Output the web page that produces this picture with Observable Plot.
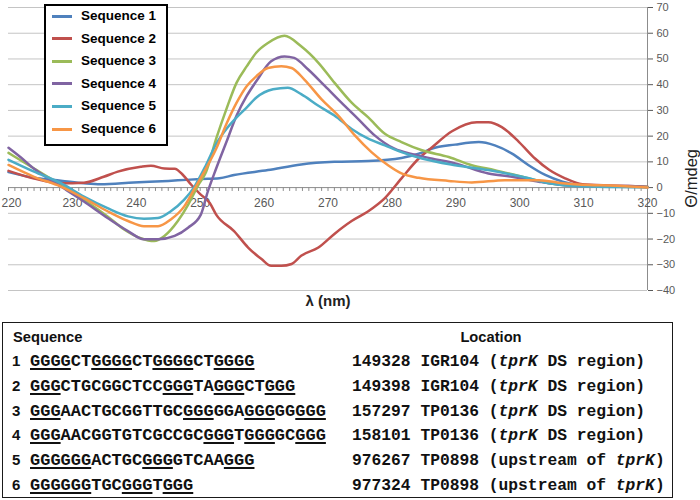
<!DOCTYPE html>
<html><head><meta charset="utf-8">
<script src="https://cdn.jsdelivr.net/npm/d3@7"></script>
<script src="https://cdn.jsdelivr.net/npm/@observablehq/plot@0.6"></script>
<style>
body{margin:0;background:#fff;}
#wrap{position:relative;width:700px;height:500px;overflow:hidden;font-family:"Liberation Sans",Arial,sans-serif;}
#chart{position:absolute;left:0;top:0;}
.legend{position:absolute;left:44px;top:4px;width:124px;height:142px;border:2px solid #000;box-sizing:border-box;background:#fff;}
.lrow{position:absolute;left:0;height:20px;line-height:20px;font-weight:bold;font-size:13.5px;color:#000;white-space:nowrap}
.sw{position:absolute;left:6px;top:8.5px;width:20px;height:3px}
.ltxt{position:absolute;left:35px;top:0}
.tbox{position:absolute;left:2px;top:322px;width:671px;height:176px;border:1.5px solid #1a1a1a;box-sizing:border-box}
.hdr{position:absolute;font-weight:bold;font-size:14.7px;line-height:20px;color:#111;white-space:nowrap}
.num{position:absolute;left:12px;font-weight:bold;font-size:15px;line-height:20px;color:#111}
.seq{position:absolute;left:30px;font-family:"Liberation Mono","Courier New",monospace;font-weight:bold;font-size:17px;line-height:20px;color:#111;white-space:pre}
.seq u{text-decoration:underline;text-decoration-thickness:2px;text-underline-offset:2px}
.loc{position:absolute;left:352px;font-family:"Liberation Mono","Courier New",monospace;font-weight:bold;font-size:16.3px;line-height:20px;color:#111;white-space:pre}
</style></head>
<body>
<div id="wrap">
  <div id="chart"></div>
  <div class="legend" id="legend"></div>
  <div class="tbox"></div>
  <div id="table"></div>
</div>
<script>
// ---- Chart data ----
const seriesNames = ["Sequence 1","Sequence 2","Sequence 3","Sequence 4","Sequence 5","Sequence 6"];
const seriesColors = ["#4F81BD","#C0504D","#9BBB59","#8064A2","#4BACC6","#F79646"];

const wl1 = [220,224.5,228.2,231.8,234.4,239.6,245,247.8,250.1,253,255.3,260.6,265.8,271,276.3,281.5,284.7,286.2,289.9,293.6,296.1,298.8,301.4,304,306.7,309.3,314,320];
const th1 = [6,3.6,2.7,1.7,1.3,2,2.6,3.0,3.3,3.6,4.9,6.8,9,10,10.3,11.5,13.6,15.1,16.7,17.7,16.4,13.2,8.7,4.9,2.3,1,0.5,0.2];

const wl2 = [220,224,228.2,231.8,234.9,237.1,240.7,242.3,244.4,246,247.3,248.6,250,251.5,252.5,255.3,257.5,259.6,261.1,262.7,264.3,265.8,268.5,271,273.7,276.3,278.9,281.5,284.2,286.2,289.4,293.3,295.1,297.2,299.9,302.4,304.6,307.1,309.8,314,317,320];
const th2 = [6.5,3.5,1.7,1.9,4.2,6.2,8.1,8.5,7.4,7.3,4.9,1.1,-2.5,-6,-10.5,-16.9,-23.3,-27.8,-30.4,-30.4,-29.7,-26.5,-23.3,-18,-13,-9.2,-4.1,3.6,11.3,15.5,21.9,25.4,25.4,23.5,17.7,11.3,6.9,3.6,1.3,0.8,0.6,0.3];

const wl3 = [220,224,228.2,231.8,235.5,238.1,240.7,242.8,244.4,246.5,248.1,249.7,250.9,252.5,254.1,255.7,257.3,258.8,260.6,263.2,265.8,268.5,271,273.7,276.3,278.9,281.5,284.7,288.9,292.5,296.1,300.4,304.6,308.2,314,320];
const th3 = [13.5,7.4,1,-4.7,-11.2,-16.3,-19.7,-20.8,-18.8,-13,-6.7,1,6,19,30.5,40.8,47.2,52.5,56.2,59,54.9,48.5,40.8,33,27.3,20.9,17.7,14.5,11.9,8.7,6.8,4.2,1.7,0.8,0.4,0.2];

const wl4 = [220,221.9,224,226.6,228.2,231.8,235.5,238.7,241.2,243.4,246,248.1,250.1,251.2,252.5,254.1,255.7,257.3,258.8,261.1,263.2,264.7,266.9,269.5,272.1,274.7,277.3,280.4,283.6,286.2,289.9,295.1,298.8,303,306.7,311,317,320];
const th4 = [15.5,11.8,7.3,3,0.4,-5.4,-11.8,-16.9,-20.1,-20.1,-18.8,-15.6,-10.5,-1.5,7.4,17.7,28,35.7,41.4,49.1,51,50.4,45.9,39.5,33,26.7,20.3,15.1,12.8,11.3,9.4,5.5,4.2,2.3,1,0.5,0.6,0.1];

const wl5 = [220,224,228.2,231.8,235.5,238.7,241.2,243.4,245.4,247.5,249,250.9,252.5,254.1,255.7,257.3,258.8,261.4,263.7,265.8,268.5,271,273.7,276.3,278.9,281.5,284.7,289.9,295.1,300.4,304.6,308.2,314,320];
const th5 = [10.8,6.2,1.7,-3.5,-8,-11.2,-12.1,-11.8,-9.2,-4.7,0,8.7,17,22.8,27.3,31.2,35,38.2,38.8,36.3,31.8,28,22.8,19,16.4,13.8,11.3,8.7,6.8,4.2,1.7,0.6,0.2,0.1];

const wl6 = [220,224,228.2,231.8,235.5,238.7,241.2,243.4,245.4,247.5,249,250.9,252.5,254.1,255.7,257.3,258.8,260.6,262.7,264.3,266.3,269,271.6,274.2,276.8,279.4,281.5,284.2,288.9,292.5,297.7,303,306.7,310.9,314,320];
const th6 = [8.8,4.2,0.4,-4.1,-9.2,-13,-15,-15,-12.4,-7.3,-0.9,7.4,15.1,24.7,33,39.5,43.3,46.5,47.2,46.5,42,34.3,28,20.3,13.8,8.7,5.5,3.8,2.6,2,2.9,2.9,1.7,1,0.8,0];

const xTicks = [220,230,240,250,260,270,280,290,300,310,320];
const yTicks = [-40,-30,-20,-10,0,10,20,30,40,50,60,70];
const xLabel = "λ (nm)";
const yLabel = "Θ/mdeg";

// ---- Table data ----
const seqNumbers = ["1","2","3","4","5","6"];
const seqStrings = [
  "GGGGCTGGGGCTGGGGCTGGGG",
  "GGGCTGCGGCTCCGGGTAGGGCTGGG",
  "GGGAACTGCGGTTGCGGGGGAGGGGGGGG",
  "GGGAACGGTGTCGCCGCGGGTGGGGCGGG",
  "GGGGGGACTGCGGGGTCAAGGG",
  "GGGGGGTGCGGGTGGG"
];
const seqUnderlines = [
  [[0,3],[6,9],[12,15],[18,21]],
  [[0,2],[13,15],[18,20],[23,25]],
  [[0,2],[15,17],[21,23],[26,28]],
  [[0,2],[17,19],[21,23],[26,28]],
  [[0,5],[11,13],[19,21]],
  [[0,5],[9,11],[13,15]]
];
const locNumbers = ["149328","149398","157297","158101","976267","977324"];
const locGenes = ["IGR104","IGR104","TP0136","TP0136","TP0898","TP0898"];
const locNotes = ["(tprK DS region)","(tprK DS region)","(tprK DS region)","(tprK DS region)","(upstream of tprK)","(upstream of tprK)"];

// ---- Build chart ----
const data = seriesNames.flatMap((s, i) => {
  const wl = [wl1,wl2,wl3,wl4,wl5,wl6][i], th = [th1,th2,th3,th4,th5,th6][i];
  return wl.map((w, j) => ({series: s, nm: w, theta: th[j]}));
});
const minorTicks = d3.range(220, 321, 1);

const chart = Plot.plot({
  width: 700, height: 315,
  marginTop: 7, marginBottom: 25, marginLeft: 8, marginRight: 53,
  style: {fontFamily: "Liberation Sans, Arial, sans-serif", fontSize: "11px", color: "#595959", background: "transparent"},
  x: {domain: [220, 320], axis: null},
  y: {domain: [-40, 70], axis: "right", ticks: yTicks, tickSize: 5, tickPadding: 4, label: null},
  color: {domain: seriesNames, range: seriesColors},
  marks: [
    Plot.ruleY(yTicks.filter(d => d !== 0), {stroke: "#c4c4c4", strokeWidth: 1}),
    Plot.ruleX([320], {stroke: "#8c8c8c"}),
    Plot.ruleX(minorTicks, {x: d => d, y1: 0, y2: -1.5, stroke: "#8c8c8c"}),
    Plot.ruleY([0], {stroke: "#8c8c8c"}),
    Plot.text(xTicks.slice(0, 1), {x: d => d, y: 0, dy: 16, dx: -7, textAnchor: "start", text: d => String(d), fill: "#595959", fontSize: 12}),
    Plot.text(xTicks.slice(1), {x: d => d, y: 0, dy: 16, text: d => String(d), fill: "#595959", fontSize: 12}),
    Plot.line(data, {x: "nm", y: "theta", z: "series", stroke: "series", strokeWidth: 2.5, curve: "monotone-x"}),
    Plot.text([yLabel], {frameAnchor: "right", dx: 44, rotate: -90, text: d => d, fontSize: 16.5, fill: "#222"}),
    Plot.text([xLabel], {frameAnchor: "bottom", dy: 15, text: d => d, fontSize: 15, fontWeight: "bold", fill: "#222"})
  ]
});
document.getElementById("chart").appendChild(chart);

// ---- Legend ----
const legend = document.getElementById("legend");
seriesNames.forEach((s, i) => {
  const row = document.createElement("div");
  row.className = "lrow";
  row.style.top = (16 + 22.6 * i - 6 - 10) + "px";
  row.style.width = "118px";
  const sw = document.createElement("div");
  sw.className = "sw"; sw.style.background = seriesColors[i];
  const t = document.createElement("div");
  t.className = "ltxt"; t.textContent = s;
  row.appendChild(sw); row.appendChild(t);
  legend.appendChild(row);
});

// ---- Table ----
const table = document.getElementById("table");
function add(cls, html, top, extra) {
  const d = document.createElement("div");
  d.className = cls; d.innerHTML = html; d.style.top = top + "px";
  if (extra) Object.assign(d.style, extra);
  table.appendChild(d);
}
add("hdr", "Sequence", 327, {left: "13px"});
add("hdr", "Location", 327, {left: "491px", transform: "translateX(-50%)"});
seqStrings.forEach((s, i) => {
  const cy = 361 + 24.8 * i;
  add("num", seqNumbers[i], cy - 10);
  let html = "", pos = 0;
  seqUnderlines[i].forEach(([a, b]) => {
    html += s.slice(pos, a) + "<u>" + s.slice(a, b + 1) + "</u>";
    pos = b + 1;
  });
  html += s.slice(pos);
  add("seq", html, cy - 9);
  add("loc", locNumbers[i] + " " + locGenes[i] + " " + locNotes[i].replace("tprK", "<i>tprK</i>"), cy - 9);
});
</script>
</body></html>
